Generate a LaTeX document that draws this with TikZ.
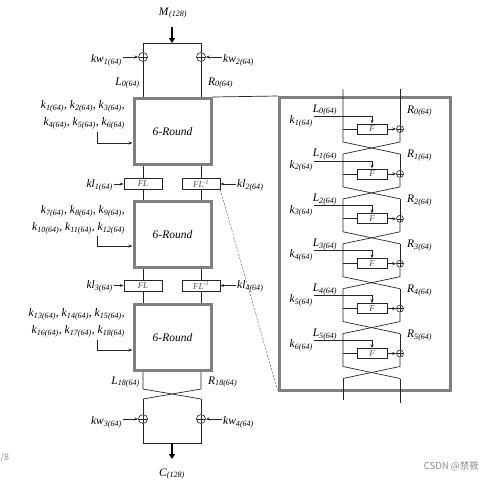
\documentclass[tikz,border=0pt]{standalone}
\usepackage{fontspec}
\setmainfont{Liberation Serif}
\newfontfamily\cjkfont{Noto Sans CJK SC}
\usetikzlibrary{arrows.meta,calc}
\newcommand\sublab[2]{\textit{#1}\textsubscript{\textit{#2}}}
\newcommand\suplab[2]{\textit{#1}\textsuperscript{\textit{#2}}}
\tikzset{
  ln/.style={line width=0.7pt, draw=black!85},
  arr/.style={ln, -{Stealth[length=4pt,width=3pt]}},
  fat/.style={line width=2.2pt, draw=black, -{Triangle[length=5pt,width=6pt]}},
  roundbox/.style={draw=black!50, line width=3pt, minimum width=77pt, minimum height=66pt, inner sep=0pt, font=\fontsize{11.5}{12}\selectfont\itshape},
  bigbox/.style={draw=black!50, line width=3pt, minimum width=171pt, minimum height=293pt, inner sep=0pt},
  flbox/.style={draw=black!85, line width=0.7pt, minimum width=38pt, minimum height=11pt, inner sep=0pt, font=\fontsize{9}{9}\selectfont, text=black!70},
  fnbox/.style={draw=black!85, line width=0.7pt, fill=white, minimum width=30pt, minimum height=10pt, inner sep=0pt, font=\fontsize{9}{9}\selectfont\itshape, text=black!70},
  xorl/.style={circle, draw=black!85, line width=0.6pt, fill=white, inner sep=0pt, minimum size=#1,
    path picture={\draw[black!85, line width=0.6pt] (path picture bounding box.north) -- (path picture bounding box.south) (path picture bounding box.west) -- (path picture bounding box.east);}},
  lbl/.style={font=\fontsize{11.5}{12}\selectfont, inner sep=1pt},
  keylist/.style={font=\fontsize{11.5}{17}\selectfont, align=right, inner sep=0pt},
}
\begin{document}
\begin{tikzpicture}[x=1pt,y=-1pt]
\useasboundingbox (0,0) rectangle (493,480);

% ---------- left column: top ----------
\node[lbl] (M) at (173,13) {\sublab{M}{(128)}};
\coordinate (Mt) at (172,27);
\coordinate (TL) at (143,43);
\coordinate (TR) at (201,43);
\coordinate (TM) at (172,43);
\draw[fat] (Mt) -- (TM);
\draw[ln] (TL) -- (TR);
\node[xorl=9pt] (x1) at (143,57) {};
\node[xorl=9pt] (x2) at (201,57) {};
\node[roundbox] (RB1) at (172.5,131.5) {6-Round};
\draw[ln] (TL) -- (x1.north);
\draw[ln] (TR) -- (x2.north);
\draw[ln] (x1.south) -- (x1 |- RB1.north);
\draw[ln] (x2.south) -- (x2 |- RB1.north);
\node[lbl, anchor=east] (kw1) at (123,60) {\sublab{kw}{1(64)}};
\node[lbl, anchor=west] (kw2) at (222,60) {\sublab{kw}{2(64)}};
\draw[arr] (kw1.east |- x1) -- (x1.west);
\draw[arr] (kw2.west |- x2) -- (x2.east);
\node[lbl, anchor=east] (L0) at (141,83) {\sublab{L}{0(64)}};
\node[lbl, anchor=west] (R0) at (207,83) {\sublab{R}{0(64)}};

% keys 1
\node[keylist, anchor=east] (K1) at (125,115) {\sublab{k}{1(64)}, \sublab{k}{2(64)}, \sublab{k}{3(64)},\\ \sublab{k}{4(64)}, \sublab{k}{5(64)}, \sublab{k}{6(64)}};
\coordinate (ka1) at (97,132);
\draw[arr] (ka1) |- ($(RB1.west)+(0,11.5)$);

% FL row 1
\node[flbox] (FL1) at (143,184) {\textit{FL}};
\node[flbox] (FI1) at (201,184) {\suplab{FL}{-1}};
\draw[ln] (x1 |- RB1.south) -- (FL1.north);
\draw[ln] (x2 |- RB1.south) -- (FI1.north);
\node[lbl, anchor=east] (kl1) at (114,185) {\sublab{kl}{1(64)}};
\node[lbl, anchor=west] (kl2) at (236,185) {\sublab{kl}{2(64)}};
\draw[arr] (kl1.east |- FL1) -- (FL1.west);
\draw[arr] (kl2.west |- FI1) -- (FI1.east);

% round box 2
\node[roundbox] (RB2) at (172.5,234.5) {6-Round};
\draw[ln] (FL1.south) -- (FL1 |- RB2.north);
\draw[ln] (FI1.south) -- (FI1 |- RB2.north);
\node[keylist, anchor=east] (K2) at (125,220) {\sublab{k}{7(64)}, \sublab{k}{8(64)}, \sublab{k}{9(64)},\\ \sublab{k}{10(64)}, \sublab{k}{11(64)}, \sublab{k}{12(64)}};
\coordinate (ka2) at (97,236);
\draw[arr] (ka2) |- ($(RB2.west)+(0,11.5)$);

% FL row 2
\node[flbox] (FL2) at (143,285.5) {\textit{FL}};
\node[flbox] (FI2) at (201,285.5) {\suplab{FL}{-1}};
\draw[ln] (FL1 |- RB2.south) -- (FL2.north);
\draw[ln] (FI1 |- RB2.south) -- (FI2.north);
\node[lbl, anchor=east] (kl3) at (114,286.5) {\sublab{kl}{3(64)}};
\node[lbl, anchor=west] (kl4) at (236,286.5) {\sublab{kl}{4(64)}};
\draw[arr] (kl3.east |- FL2) -- (FL2.west);
\draw[arr] (kl4.west |- FI2) -- (FI2.east);

% round box 3
\node[roundbox] (RB3) at (172.5,337.5) {6-Round};
\draw[ln] (FL2.south) -- (FL2 |- RB3.north);
\draw[ln] (FI2.south) -- (FI2 |- RB3.north);
\node[keylist, anchor=east] (K3) at (125,322.5) {\sublab{k}{13(64)}, \sublab{k}{14(64)}, \sublab{k}{15(64)},\\ \sublab{k}{16(64)}, \sublab{k}{17(64)}, \sublab{k}{18(64)}};
\coordinate (ka3) at (97,340);
\draw[arr] (ka3) |- ($(RB3.west)+(0,12.5)$);

% bottom
\node[lbl, anchor=east] (L18) at (141,382) {\sublab{L}{18(64)}};
\node[lbl, anchor=west] (R18) at (207,382) {\sublab{R}{18(64)}};
\coordinate (P1) at (143,389);
\coordinate (P2) at (201,389);
\coordinate (Q1) at (143,399);
\coordinate (Q2) at (201,399);
\draw[ln] (x1 |- RB3.south) -- (P1) -- (Q2);
\draw[ln] (x2 |- RB3.south) -- (P2) -- (Q1);
\node[xorl=9pt] (x3) at (143,419) {};
\node[xorl=9pt] (x4) at (201,419) {};
\draw[ln] (Q1) -- (x3.north);
\draw[ln] (Q2) -- (x4.north);
\coordinate (BL) at (143,443);
\coordinate (BR) at (201,443);
\coordinate (BM) at (172,443);
\coordinate (Cb) at (172,459);
\draw[ln] (x3.south) -- (BL) -- (BR) -- (x4.south);
\draw[fat] (BM) -- (Cb);
\node[lbl] (C) at (172,474) {\sublab{C}{(128)}};
\node[lbl, anchor=east] (kw3) at (123,422) {\sublab{kw}{3(64)}};
\node[lbl, anchor=west] (kw4) at (222,422) {\sublab{kw}{4(64)}};
\draw[arr] (kw3.east |- x3) -- (x3.west);
\draw[arr] (kw4.west |- x4) -- (x4.east);

% ---------- detail box ----------
\node[bigbox] (BB) at (365,244) {};
\draw[ln] (RB1.north east) -- (BB.north west);
\draw[black!60, line width=0.5pt, dash pattern=on 2pt off 1.5pt] (FI1.south east) -- (BB.south west);

\coordinate (uc0) at (343,89);
\coordinate (ud0) at (400,89);
\foreach \i/\p/\c in {1/0/129,2/1/173.9,3/2/218.8,4/3/263.7,5/4/308.6,6/5/353.5}{
  \node[fnbox] (F\i) at (372,\c) {F};
  \node[xorl=7pt] (X\i) at (400,\c) {};
  \coordinate (J\i) at (343,\c);
  \coordinate (ua\i) at (343,\c+13);
  \coordinate (ub\i) at (400,\c+13);
  \coordinate (uc\i) at (343,\c+25);
  \coordinate (ud\i) at (400,\c+25);
  \coordinate (T\i) at (372,\c-13);
  \draw[ln] (uc\p) -- (J\i) -- (ua\i) -- (ud\i);
  \draw[ln] (ud\p) -- (X\i.north);
  \draw[ln] (X\i.south) -- (ub\i) -- (uc\i);
  \draw[ln] (J\i) -- (F\i.west);
  \draw[arr] (F\i.east) -- (X\i.west);
  \node[lbl, anchor=east] (K\i) at (314,\c-8) {\sublab{k}{\i(64)}};
  \draw[arr] (K\i.east |- T\i) -- (T\i) -- (F\i.north);
  \node[lbl] (L\i) at (325,\c-19) {\sublab{L}{\p(64)}};
  \node[lbl, anchor=west] (R\i) at (406,\c-18) {\sublab{R}{\p(64)}};
}
\coordinate (LBt) at (343,400);
\coordinate (RBt) at (400,403);
\draw[ln] (uc6) -- (LBt);
\draw[ln] (ud6) -- (RBt);

% ---------- page marks ----------
\node[font=\cjkfont\fontsize{9.5}{10}\selectfont, text=black!45, anchor=east, inner sep=0pt] (wm) at (479,466) {CSDN @禁筱};
\node[font=\cjkfont\fontsize{9}{10}\selectfont, text=black!45, anchor=west, inner sep=0pt] (pg) at (0.5,458) {/8};
\end{tikzpicture}
\end{document}
